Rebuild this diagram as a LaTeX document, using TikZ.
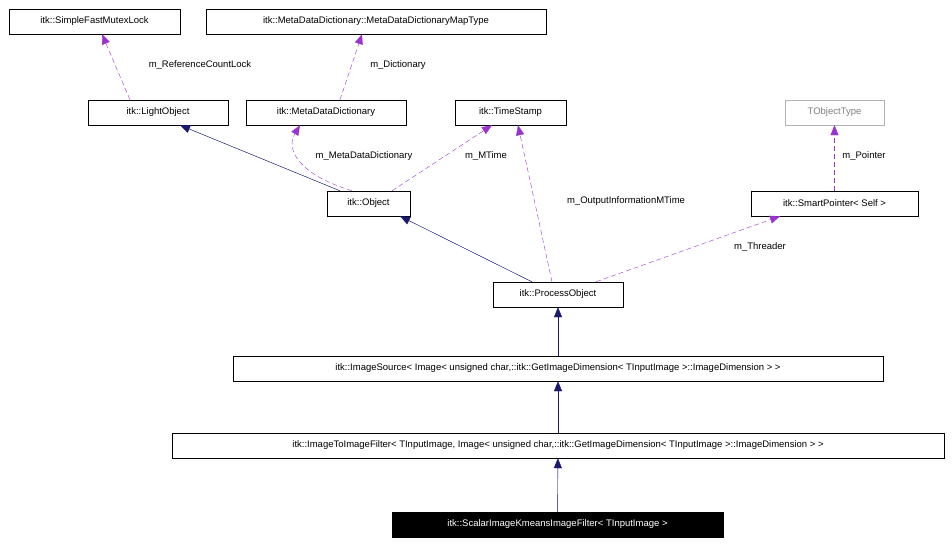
\documentclass[tikz,border=0pt]{standalone}
\usepackage{fontspec}
\setmainfont{Liberation Sans}
\usetikzlibrary{arrows.meta}
\definecolor{navy}{HTML}{191970}
\definecolor{purp}{HTML}{9A32CD}
\begin{document}
\begin{tikzpicture}[x=1pt,y=-1pt,font=\fontsize{9.5}{11}\selectfont,
 cls/.style={draw=black,fill=white,minimum height=25pt,inner sep=0pt,anchor=center},
 inh/.style={draw=navy,-{Triangle[length=10pt,width=8pt]},fill=navy},
 use/.style={draw=purp,dashed,dash pattern=on 5pt off 3pt,-{Triangle[length=10pt,width=8pt,fill=purp]}},
 lab/.style={font=\fontsize{9.5}{11}\selectfont,inner sep=1pt}]
\useasboundingbox (0,0) rectangle (952,546);
\node[cls,minimum width=171pt] (mutex) at (94.5,21.5) {itk::SimpleFastMutexLock};
\node[cls,minimum width=340pt] (map) at (376,21.5) {itk::MetaDataDictionary::MetaDataDictionaryMapType};
\node[cls,minimum width=140pt] (light) at (158,112.5) {itk::LightObject};
\node[cls,minimum width=160pt] (mdd) at (326,112.5) {itk::MetaDataDictionary};
\node[cls,minimum width=111pt] (ts) at (510.5,112.5) {itk::TimeStamp};
\node[cls,draw=gray!60,text=gray,minimum width=99pt] (tot) at (834.5,112.5) {TObjectType};
\node[cls,minimum width=83pt] (obj) at (368.5,203.5) {itk::Object};
\node[cls,minimum width=167pt] (sp) at (834.5,203.5) {itk::SmartPointer< Self >};
\node[cls,minimum width=130pt] (po) at (558,294.5) {itk::ProcessObject};
\node[cls,minimum width=650pt] (is) at (558,368.5) {itk::ImageSource< Image< unsigned char,::itk::GetImageDimension< TInputImage >::ImageDimension > >};
\node[cls,minimum width=772pt] (itif) at (558,445.5) {itk::ImageToImageFilter< TInputImage, Image< unsigned char,::itk::GetImageDimension< TInputImage >::ImageDimension > >};
\node[cls,fill=black,text=white,minimum width=331pt] (sk) at (557.5,524.5) {itk::ScalarImageKmeansImageFilter< TInputImage >};

\draw[use] (light.north -| 130,0) -- (mutex.south -| 102,0);
\node[lab] at (200,65) {m\_ReferenceCountLock};
\draw[use] (mdd.north -| 340,0) -- (map.south -| 362,0);
\node[lab] at (398,65) {m\_Dictionary};
\draw[inh] (obj.north -| 340,0) -- (light.south -| 180,0);
\draw[use] (obj.north -| 352,0) .. controls (300,175) and (285,150) .. (mdd.south -| 300,0);
\node[lab] at (364,156) {m\_MetaDataDictionary};
\draw[use] (obj.north -| 392,0) -- (ts.south -| 492,0);
\node[lab] at (486,156) {m\_MTime};
\draw[use] (po.north -| 552,0) -- (ts.south -| 518,0);
\node[lab] at (626,201) {m\_OutputInformationMTime};
\draw[inh] (po.north -| 532,0) -- (obj.south -| 400,0);
\draw[use] (po.north -| 596,0) -- (sp.south -| 780,0);
\node[lab] at (760,247) {m\_Threader};
\draw[use] (sp) -- (tot);
\node[lab] at (864,156) {m\_Pointer};
\draw[inh] (is) -- (po);
\draw[inh] (itif) -- (is);
\draw[inh] (sk) -- (itif);
\end{tikzpicture}
\end{document}
